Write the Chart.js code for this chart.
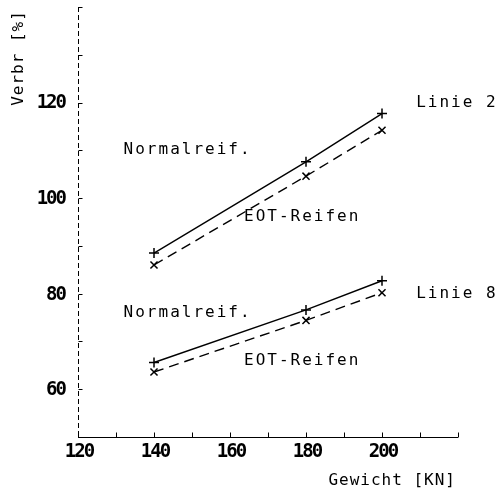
<!DOCTYPE html>
<html>
<head>
<meta charset="utf-8">
<script src="https://cdn.jsdelivr.net/npm/chart.js@4"></script>
<style>
  html, body { margin: 0; padding: 0; background: #fff; }
  #wrap { width: 500px; height: 496px; }
</style>
</head>
<body>
<div id="wrap"><canvas id="verbrChart" width="500" height="496"></canvas></div>
<script>
// Gewicht [KN] at which each line was measured
const weights = [140, 180, 200]

// Verbr [%]
const linie2Normal = [88.5, 107.6, 117.7]
const linie2Eot = [86.0, 104.6, 114.2]
const linie8Normal = [65.6, 76.6, 82.7]
const linie8Eot = [63.6, 74.4, 80.2]

// tick labels
const xTickLabels = [120, 140, 160, 180, 200]
const yTickLabels = [60, 80, 100, 120]

// curve notes placed in data coordinates
const notes = [
  { text: 'Linie 2', x: 209, y: 120 },
  { text: 'Normalreif.', x: 132, y: 110 },
  { text: 'EOT-Reifen', x: 163.7, y: 96 },
  { text: 'Linie 8', x: 209, y: 80 },
  { text: 'Normalreif.', x: 132, y: 76 },
  { text: 'EOT-Reifen', x: 163.7, y: 66 },
]

const MONO = '"DejaVu Sans Mono", "Liberation Mono", monospace'

function pts(values) {
  return values.map((v, i) => ({ x: weights[i], y: v }))
}

function series(label, values, marker, dashed) {
  return {
    label,
    data: pts(values),
    borderColor: '#000',
    backgroundColor: '#000',
    borderWidth: 1.4,
    borderDash: dashed ? [10, 6] : [],
    pointStyle: marker,
    pointRadius: 5,
    pointBorderWidth: 1.5,
    pointBorderColor: '#000',
    tension: 0,
    fill: false,
  }
}

/* axes, ticks and text drawn the way the old plotter did */
const paperAxes = {
  id: 'paperAxes',
  afterDraw(chart) {
    const { ctx, chartArea: a, scales: { x, y } } = chart
    ctx.save()
    ctx.strokeStyle = '#000'
    ctx.fillStyle = '#000'
    ctx.lineWidth = 1

    // x axis with ticks pointing up
    const xb = Math.round(a.bottom) + 0.5
    ctx.beginPath()
    ctx.moveTo(a.left, xb)
    ctx.lineTo(a.right, xb)
    for (let v = 120; v <= 220; v += 10) {
      const px = Math.round(x.getPixelForValue(v)) + 0.5
      ctx.moveTo(px, xb)
      ctx.lineTo(px, xb - 5)
    }
    ctx.stroke()

    // y axis (broken line) with ticks pointing right
    const yl = Math.round(a.left) + 0.5
    ctx.setLineDash([5, 3])
    ctx.beginPath()
    ctx.moveTo(yl, a.top)
    ctx.lineTo(yl, a.bottom)
    ctx.stroke()
    ctx.setLineDash([])
    ctx.beginPath()
    for (let v = 60; v <= 140; v += 10) {
      const py = Math.round(y.getPixelForValue(v)) + 0.5
      ctx.moveTo(yl, py)
      ctx.lineTo(yl + 4, py)
    }
    ctx.stroke()

    // tick labels
    ctx.font = `bold 19px ${MONO}`
    ctx.letterSpacing = '-2px'
    ctx.textBaseline = 'middle'
    ctx.textAlign = 'center'
    xTickLabels.forEach((v) => ctx.fillText(String(v), x.getPixelForValue(v) + 1, a.bottom + 15))
    ctx.textAlign = 'right'
    yTickLabels.forEach((v) => ctx.fillText(String(v), a.left - 13, y.getPixelForValue(v) + 1))

    // notes on the curves
    ctx.font = `16px ${MONO}`
    ctx.letterSpacing = '2px'
    ctx.textAlign = 'left'
    notes.forEach((n) => ctx.fillText(n.text, x.getPixelForValue(n.x), y.getPixelForValue(n.y)))

    // axis titles
    ctx.letterSpacing = '1px'
    ctx.textAlign = 'right'
    ctx.fillText('Gewicht [KN]', 456, 481)
    ctx.save()
    ctx.translate(19, 58)
    ctx.rotate(-Math.PI / 2)
    ctx.textAlign = 'center'
    ctx.fillText('Verbr [%]', 0, 0)
    ctx.restore()

    ctx.restore()
  },
}

new Chart(document.getElementById('verbrChart'), {
  type: 'line',
  data: {
    datasets: [
      series('Linie 2 Normalreif.', linie2Normal, 'cross', false),
      series('Linie 2 EOT-Reifen', linie2Eot, 'crossRot', true),
      series('Linie 8 Normalreif.', linie8Normal, 'cross', false),
      series('Linie 8 EOT-Reifen', linie8Eot, 'crossRot', true),
    ],
  },
  options: {
    responsive: false,
    animation: false,
    clip: false,
    layout: { padding: { left: 78, right: 42, top: 7, bottom: 59 } },
    plugins: { legend: { display: false }, tooltip: { enabled: false } },
    scales: {
      x: { type: 'linear', min: 120, max: 220, display: false },
      y: { type: 'linear', min: 50, max: 140, display: false },
    },
  },
  plugins: [paperAxes],
})
</script>
</body>
</html>
